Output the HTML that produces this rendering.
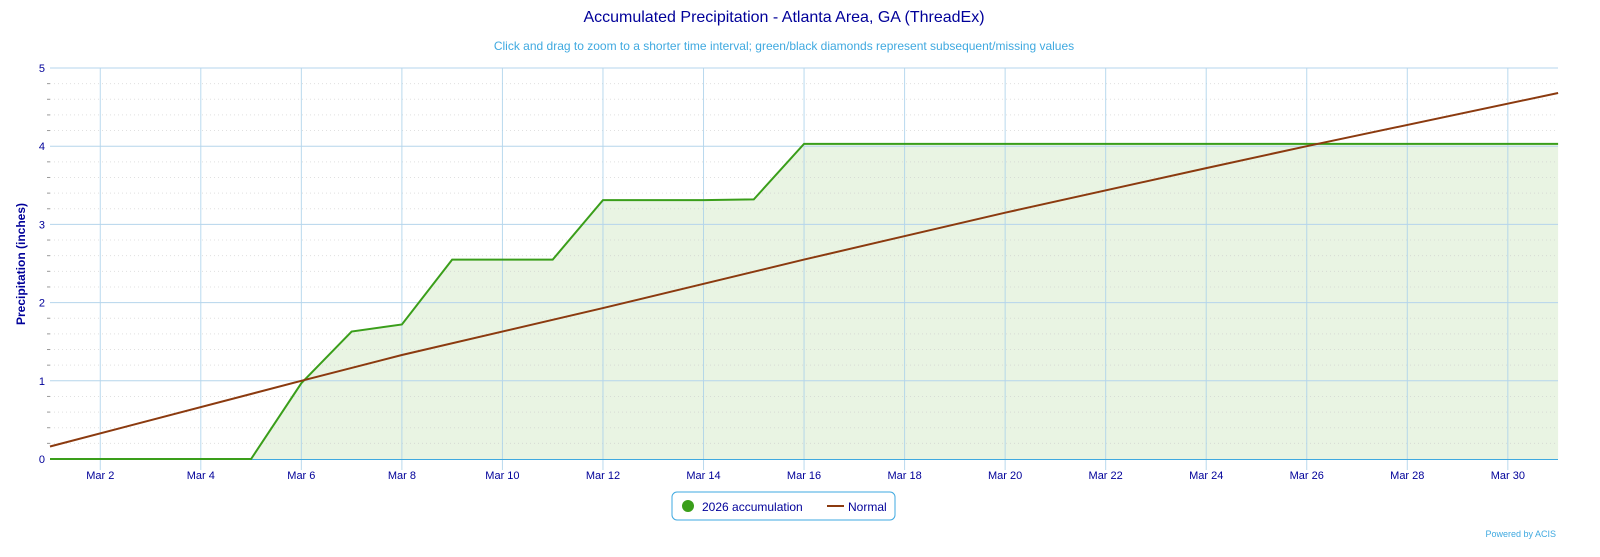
<!DOCTYPE html>
<html><head><meta charset="utf-8"><style>
body{margin:0;background:#fff;width:1600px;height:552px;overflow:hidden;font-family:"Liberation Sans","DejaVu Sans",sans-serif}
</style></head><body>
<svg id="s" width="1600" height="552" xmlns="http://www.w3.org/2000/svg" font-family="Liberation Sans, DejaVu Sans, sans-serif">
<text x="784" y="22" text-anchor="middle" font-size="16" fill="#000099">Accumulated Precipitation - Atlanta Area, GA (ThreadEx)</text>
<text x="784" y="50" text-anchor="middle" font-size="12" fill="#3fa9e0">Click and drag to zoom to a shorter time interval; green/black diamonds represent subsequent/missing values</text>
<text transform="translate(25,264) rotate(-90)" text-anchor="middle" font-size="12" font-weight="bold" fill="#000099">Precipitation (inches)</text>
<g id="g"></g>
<rect x="672" y="492" width="223" height="28" rx="5" fill="#fff" stroke="#3fa9e0" stroke-width="1"/>
<circle cx="688" cy="506" r="6" fill="#3a9e1a"/>
<text x="702" y="511" font-size="12" fill="#000099">2026 accumulation</text>
<line x1="827" y1="506" x2="844" y2="506" stroke="#8b3a0f" stroke-width="2"/>
<text x="848" y="511" font-size="12" fill="#000099">Normal</text>
<text x="1556" y="537" text-anchor="end" font-size="9" fill="#3fa9e0">Powered by ACIS</text>
</svg>
<script>
const X=d=>50+(d-1)*50.27, Y=v=>459-v*78.2;
let h='';
const g=[0,0,0,0,0,0.97,1.63,1.72,2.55,2.55,2.55,3.31,3.31,3.31,3.32,4.03];
while(g.length<31)g.push(4.03);
let p=g.map((v,i)=>`${X(i+1)},${Y(v)}`).join(' ');
h+=`<polygon points="${X(1)},${Y(0)} ${p} ${X(31)},${Y(0)}" fill="#e9f4e3"/>`;
for(let v=0.2;v<5;v+=0.2){if(Math.abs(v-Math.round(v))<0.01)continue;h+=`<line x1="50" x2="1558" y1="${Y(v)}" y2="${Y(v)}" stroke="#ccc" stroke-opacity="0.6" stroke-dasharray="1,3"/><line x1="47" x2="50" y1="${Y(v)}" y2="${Y(v)}" stroke="#999"/>`;}
for(let d=2;d<=30;d+=2){h+=`<line x1="${X(d)}" x2="${X(d)}" y1="68" y2="470" stroke="#a8cfea" stroke-opacity="0.8"/><text x="${X(d)}" y="479" text-anchor="middle" font-size="11" fill="#000099">Mar ${d}</text>`;}
for(let v=1;v<=5;v++){h+=`<line x1="50" x2="1558" y1="${Y(v)}" y2="${Y(v)}" stroke="#b5d5ec"/><text x="45" y="${Y(v)+4}" text-anchor="end" font-size="11" fill="#000099">${v}</text>`;}
h+=`<text x="45" y="463" text-anchor="end" font-size="11" fill="#000099">0</text>`;
h+=`<line x1="50" x2="1558" y1="459.5" y2="459.5" stroke="#3fa9e0"/>`;
h+=`<polyline points="${p}" fill="none" stroke="#3a9e1a" stroke-width="2"/>`;
const n=[[1,0.16],[6,1.0],[8,1.33],[12,1.93],[16,2.55],[20,3.15],[24,3.72],[26,4.0],[31,4.68]];
h+=`<polyline points="${n.map(a=>X(a[0])+','+Y(a[1])).join(' ')}" fill="none" stroke="#8b3a0f" stroke-width="2"/>`;
document.getElementById('g').innerHTML=h;
</script>
</body></html>
